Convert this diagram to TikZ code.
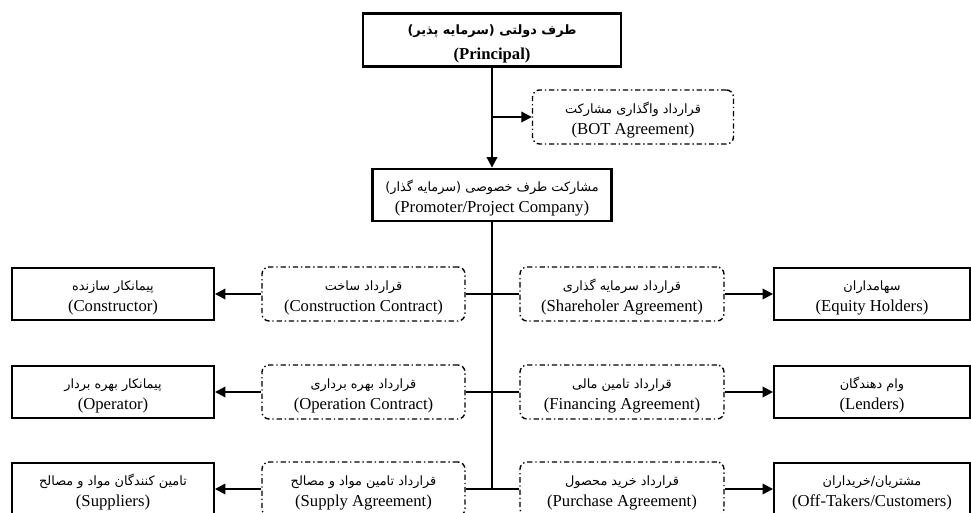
\documentclass[tikz,border=0pt]{standalone}
\usepackage{fontspec}
\setmainfont{Liberation Serif}
\newfontfamily\persianfont[Script=Arabic,Scale=0.77]{DejaVu Sans}
\TeXXeTstate=1
\newcommand{\fatext}[1]{{\persianfont\beginR\rule{0pt}{10pt}#1\endR}}
\usetikzlibrary{arrows.meta}

\begin{document}
\begin{tikzpicture}[x=0.02cm,y=-0.02cm,
	every node/.style={align=center,inner sep=0pt,font=\fontsize{9.5}{12}\selectfont},
	mainbox/.style={draw,line width=1.6pt,minimum height=1.06cm},
	partybox/.style={draw,line width=1.1pt,minimum width=4.04cm,minimum height=1.04cm},
	contractbox/.style={draw,line width=0.8pt,rounded corners=4pt,dash pattern={on 3pt off 1.6pt on 0.8pt off 1.6pt},minimum width=4.06cm,minimum height=1.08cm},
	link/.style={line width=1.1pt},
	arr/.style={link,-{Triangle[length=6pt,width=6pt]}}]
	\useasboundingbox (0,0) rectangle (971,513);
	\clip (0,0) rectangle (971,513);

	\node[mainbox,minimum width=5.16cm,font=\fontsize{9.5}{14.5}\selectfont\bfseries] (principal) at (492,40) {\fatext{طرف دولتی (سرمایه پذیر)}\\(Principal)};
	\node[contractbox,minimum width=4.02cm] (bot) at (633,117) {\fatext{قرارداد واگذاری مشارکت}\\(BOT Agreement)};
	\node[mainbox,minimum width=4.78cm,minimum height=1.04cm] (promoter) at (492,195) {\fatext{مشارکت طرف خصوصی (سرمایه گذار)}\\(Promoter/Project Company)};

	\node[partybox] (constructor) at (113,294) {\fatext{پیمانکار سازنده}\\(Constructor)};
	\node[contractbox] (construction) at (363.5,294) {\fatext{قرارداد ساخت}\\(Construction Contract)};
	\node[contractbox,minimum width=4.08cm] (shareholder) at (622,294) {\fatext{قرارداد سرمایه گذاری}\\(Shareholer Agreement)};
	\node[partybox,minimum width=3.92cm] (equity) at (872,294) {\fatext{سهامداران}\\(Equity Holders)};

	\node[partybox] (operator) at (113,392) {\fatext{پیمانکار بهره بردار}\\(Operator)};
	\node[contractbox] (operation) at (363.5,392) {\fatext{قرارداد بهره برداری}\\(Operation Contract)};
	\node[contractbox,minimum width=4.08cm] (financing) at (622,392) {\fatext{قرارداد تامین مالی}\\(Financing Agreement)};
	\node[partybox,minimum width=3.92cm] (lenders) at (872,392) {\fatext{وام دهندگان}\\(Lenders)};

	\node[partybox] (suppliers) at (113,489) {\fatext{تامین کنندگان مواد و مصالح}\\(Suppliers)};
	\node[contractbox] (supply) at (363.5,489) {\fatext{قرارداد تامین مواد و مصالح}\\(Supply Agreement)};
	\node[contractbox,minimum width=4.08cm] (purchase) at (622,489) {\fatext{قرارداد خرید محصول}\\(Purchase Agreement)};
	\node[partybox,minimum width=3.92cm] (customers) at (872,489) {\fatext{مشتریان/خریداران}\\(Off-Takers/Customers)};

	\draw[arr] (principal) -- (promoter);
	\coordinate (botjoin) at (principal.south |- bot.west);
	\draw[arr] (botjoin) -- (bot.west);

	\coordinate (trunkend) at (promoter.south |- supply.east);
	\draw[link] (promoter.south) -- (trunkend);

	\draw[link] (construction.east) -- (shareholder.west);
	\draw[link] (operation.east) -- (financing.west);
	\draw[link] (supply.east) -- (purchase.west);

	\draw[arr] (construction.west) -- (constructor.east);
	\draw[arr] (operation.west) -- (operator.east);
	\draw[arr] (supply.west) -- (suppliers.east);
	\draw[arr] (shareholder.east) -- (equity.west);
	\draw[arr] (financing.east) -- (lenders.west);
	\draw[arr] (purchase.east) -- (customers.west);
\end{tikzpicture}
\end{document}
